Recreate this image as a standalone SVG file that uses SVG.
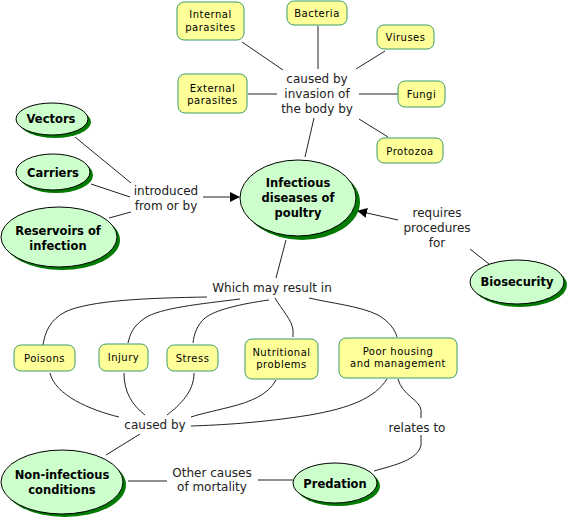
<svg xmlns="http://www.w3.org/2000/svg" width="572" height="521" viewBox="0 0 572 521">
<style>
.box{fill:#ffff99;stroke:#3a9a66;stroke-width:1}
.bt{font-family:"DejaVu Sans",Verdana,sans-serif;font-size:10px;letter-spacing:0.5px;fill:#000;text-anchor:middle}
.ell{fill:#ccffcc;stroke:#000;stroke-width:1}
.sh{fill:#007a00}
.et{font-family:"DejaVu Sans",Verdana,sans-serif;font-size:11.5px;font-weight:bold;fill:#000;text-anchor:middle}
.lt{font-family:"DejaVu Sans",Verdana,sans-serif;font-size:12px;fill:#222;text-anchor:middle}
.c{fill:none;stroke:#222;stroke-width:1}
</style>
<defs>
<marker id="ah" markerWidth="10" markerHeight="10" refX="9" refY="5" orient="auto" markerUnits="userSpaceOnUse">
<path d="M0,0 L10,5 L0,10 z" fill="#000"/>
</marker>
</defs>
<rect width="572" height="521" fill="#fff"/>
<g id="connectors">
<line class="c" x1="242" y1="42" x2="283" y2="70"/>
<line class="c" x1="318" y1="26" x2="318" y2="69"/>
<line class="c" x1="385" y1="51" x2="356" y2="69"/>
<line class="c" x1="248" y1="94" x2="277" y2="94"/>
<line class="c" x1="359" y1="94" x2="398" y2="94"/>
<line class="c" x1="359" y1="119" x2="388" y2="137"/>
<line class="c" x1="314" y1="118" x2="305" y2="157"/>
<line class="c" x1="75" y1="137" x2="131" y2="183"/>
<line class="c" x1="91" y1="184" x2="130" y2="197"/>
<line class="c" x1="109" y1="218" x2="131" y2="212"/>
<line class="c" x1="203" y1="197" x2="239" y2="197" marker-end="url(#ah)"/>
<line class="c" x1="489" y1="264" x2="470" y2="249"/>
<line class="c" x1="398" y1="220" x2="358" y2="211" marker-end="url(#ah)"/>
<line class="c" x1="286" y1="240" x2="276" y2="278"/>
<path class="c" d="M207,297 C150,298 90,300 65,312 C50,320 45,332 43,345"/>
<path class="c" d="M240,299 C200,304 160,308 145,318 C133,326 130,334 128,343"/>
<path class="c" d="M269,300 C240,304 215,310 205,318 C197,325 194,334 193,343"/>
<path class="c" d="M275,298 C282,310 292,320 293,330 L293,337"/>
<path class="c" d="M309,298 C330,303 360,306 378,315 C390,322 395,330 397,337"/>
<path class="c" d="M50,373 C55,395 90,410 119,417"/>
<path class="c" d="M124,373 C124,392 132,405 145,415"/>
<path class="c" d="M194,373 C194,392 180,405 167,415"/>
<path class="c" d="M276,380 C268,395 250,402 230,407 C210,412 200,414 191,417"/>
<path class="c" d="M387,379 C375,398 350,408 310,415 C260,423 220,425 191,426"/>
<line class="c" x1="140" y1="434" x2="106" y2="455"/>
<line class="c" x1="128" y1="481" x2="167" y2="481"/>
<line class="c" x1="258" y1="480" x2="293" y2="480"/>
<path class="c" d="M398,379 C402,395 420,400 421,410 L421,418"/>
<path class="c" d="M421,435 L421,445 C418,460 395,465 374,471"/>
</g>
<g id="internal-parasites"><rect class="box" x="177" y="2" width="67" height="38" rx="7"/><text class="bt" x="210.5" y="18">Internal</text><text class="bt" x="210.5" y="31">parasites</text></g>
<g id="bacteria"><rect class="box" x="287" y="1" width="60" height="24" rx="7"/><text class="bt" x="317" y="17">Bacteria</text></g>
<g id="viruses"><rect class="box" x="377" y="25" width="57" height="24" rx="7"/><text class="bt" x="405.5" y="41">Viruses</text></g>
<g id="external-parasites"><rect class="box" x="178" y="74" width="69" height="39" rx="7"/><text class="bt" x="212.5" y="92">External</text><text class="bt" x="212.5" y="104">parasites</text></g>
<g id="fungi"><rect class="box" x="398" y="81" width="47" height="26" rx="7"/><text class="bt" x="421.5" y="98">Fungi</text></g>
<g id="protozoa"><rect class="box" x="377" y="138" width="66" height="25" rx="7"/><text class="bt" x="410" y="155">Protozoa</text></g>
<g id="label-invasion"><text class="lt" x="317" y="83">caused by</text><text class="lt" x="317" y="98">invasion of</text><text class="lt" x="317" y="113">the body by</text></g>
<g id="infectious"><ellipse class="sh" cx="302" cy="202" rx="58" ry="38"/><ellipse class="ell" cx="298" cy="198" rx="58" ry="38"/><text class="et" x="298" y="187">Infectious</text><text class="et" x="298" y="202">diseases of</text><text class="et" x="298" y="217">poultry</text></g>
<g id="vectors"><ellipse class="sh" cx="55" cy="122" rx="36" ry="16"/><ellipse class="ell" cx="52" cy="119" rx="36" ry="16"/><text class="et" x="51" y="123">Vectors</text></g>
<g id="carriers"><ellipse class="sh" cx="56" cy="175" rx="37" ry="18"/><ellipse class="ell" cx="53" cy="172" rx="37" ry="18"/><text class="et" x="53" y="177">Carriers</text></g>
<g id="reservoirs"><ellipse class="sh" cx="62" cy="240" rx="58" ry="30"/><ellipse class="ell" cx="59" cy="237" rx="58" ry="30"/><text class="et" x="58" y="235">Reservoirs of</text><text class="et" x="58" y="250">infection</text></g>
<g id="label-introduced"><text class="lt" x="166" y="195">introduced</text><text class="lt" x="166" y="210">from or by</text></g>
<g id="biosecurity"><ellipse class="sh" cx="520" cy="285" rx="47" ry="22"/><ellipse class="ell" cx="517" cy="282" rx="47" ry="22"/><text class="et" x="517" y="286">Biosecurity</text></g>
<g id="label-requires"><text class="lt" x="437" y="217">requires</text><text class="lt" x="437" y="232">procedures</text><text class="lt" x="437" y="247">for</text></g>
<g id="label-result"><text class="lt" x="272" y="292">Which may result in</text></g>
<g id="poisons"><rect class="box" x="14" y="345" width="61" height="26" rx="7"/><text class="bt" x="44.5" y="362">Poisons</text></g>
<g id="injury"><rect class="box" x="99" y="344" width="49" height="27" rx="7"/><text class="bt" x="123.5" y="361">Injury</text></g>
<g id="stress"><rect class="box" x="167" y="345" width="51" height="26" rx="7"/><text class="bt" x="192.5" y="362">Stress</text></g>
<g id="nutritional"><rect class="box" x="245" y="339" width="73" height="40" rx="7"/><text class="bt" x="281.5" y="356">Nutritional</text><text class="bt" x="281.5" y="368">problems</text></g>
<g id="poor-housing"><rect class="box" x="339" y="338" width="118" height="40" rx="7"/><text class="bt" x="398" y="355">Poor housing</text><text class="bt" x="398" y="367">and management</text></g>
<g id="label-caused"><text class="lt" x="155" y="429">caused by</text></g>
<g id="non-infectious"><ellipse class="sh" cx="65" cy="485" rx="61" ry="32"/><ellipse class="ell" cx="62" cy="482" rx="61" ry="32"/><text class="et" x="62" y="479">Non-infectious</text><text class="et" x="62" y="494">conditions</text></g>
<g id="label-other"><text class="lt" x="212" y="477">Other causes</text><text class="lt" x="212" y="491">of mortality</text></g>
<g id="predation"><ellipse class="sh" cx="338" cy="486" rx="42" ry="20"/><ellipse class="ell" cx="335" cy="483" rx="42" ry="20"/><text class="et" x="335" y="488">Predation</text></g>
<g id="label-relates"><text class="lt" x="417" y="432">relates to</text></g>
</svg>
